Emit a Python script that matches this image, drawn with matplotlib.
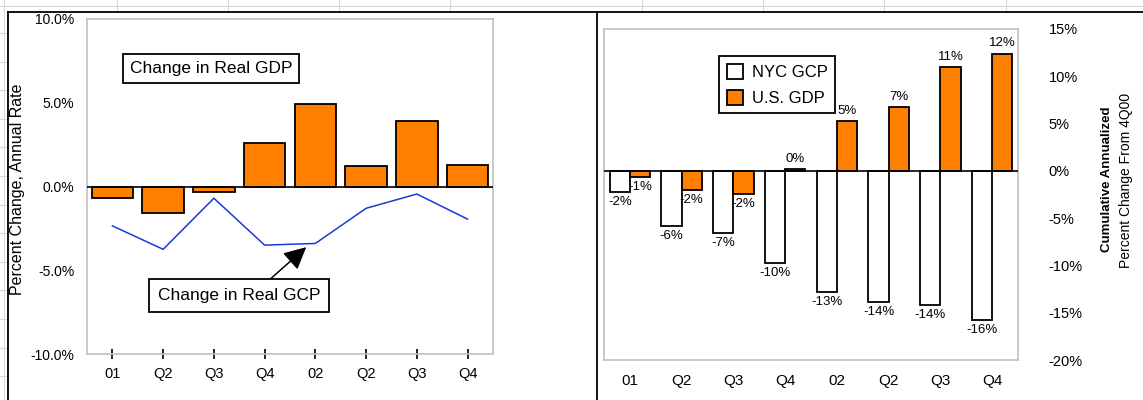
import numpy as np
import matplotlib
matplotlib.use('Agg')
import matplotlib.pyplot as plt
from matplotlib.lines import Line2D
from matplotlib.ticker import FuncFormatter

plt.rcParams['font.family'] = ['Liberation Sans', 'DejaVu Sans']

quarters = ['01', 'Q2', 'Q3', 'Q4', '02', 'Q2', 'Q3', 'Q4']

# quarterly change, annual rate (%)
real_gdp = [-0.7, -1.6, -0.3, 2.6, 4.9, 1.2, 3.9, 1.3]
real_gcp = [-2.35, -3.75, -0.7, -3.5, -3.4, -1.3, -0.45, -1.95]

# cumulative annualized change from 4Q00 (%)
nyc_gcp = [-2.2, -5.8, -6.6, -9.7, -12.8, -13.9, -14.2, -15.8]
us_gdp = [-0.6, -2.0, -2.4, 0.2, 5.3, 6.7, 11.0, 12.4]

ORANGE = '#ff8000'
BLUE = '#1a3ad4'
FRAME = '#c0c0c0'
SHEET = '#d9d9d9'

x = np.arange(len(quarters))

fig = plt.figure(figsize=(11.43, 4.0), dpi=100)

# worksheet grid peeking out round the chart objects
W, H = 1143.0, 400.0
fig.add_artist(Line2D([0, 1], [1 - 6 / H, 1 - 6 / H], color=SHEET, lw=0.8))
for cx in [117, 228, 339, 450, 642, 763, 884, 1006]:
    fig.add_artist(Line2D([cx / W, cx / W], [1, 1 - 12 / H], color=SHEET, lw=0.8))
fig.add_artist(Line2D([4 / W, 4 / W], [1, 0], color=SHEET, lw=0.8))
for ry in np.arange(33, 400, 28.6):
    fig.add_artist(Line2D([0, 8 / W], [1 - ry / H, 1 - ry / H], color=SHEET, lw=0.8))

# chart object borders
top = 1 - 12 / H
fig.add_artist(Line2D([8 / W, 1], [top, top], color='black', lw=1.3))
fig.add_artist(Line2D([8 / W, 8 / W], [top, 0], color='black', lw=1.3))
fig.add_artist(Line2D([596.5 / W, 596.5 / W], [top, 0], color='black', lw=1.3))

# ---- left: quarterly change ----
ax1 = fig.add_axes([87 / W, 1 - 354 / H, 406 / W, 335 / H])
ax1.bar(x, real_gdp, width=0.82, color=ORANGE, edgecolor='black', lw=1.3, zorder=3)
ax1.plot(x, real_gcp, color=BLUE, lw=1.1, zorder=4)
ax1.axhline(0, color='black', lw=1.2, zorder=5)
ax1.set_xlim(-0.5, 7.5)
ax1.set_ylim(-10, 10)
ax1.set_yticks([-10, -5, 0, 5, 10])
ax1.yaxis.set_major_formatter(FuncFormatter(lambda v, p: f'{v:.1f}%'))
ax1.set_xticks(x)
ax1.set_xticklabels(quarters)
ax1.tick_params(axis='y', length=0, pad=9, labelsize=10)
ax1.tick_params(axis='x', direction='inout', length=7, width=1.2, pad=6, labelsize=10.5)
for s in ax1.spines.values():
    s.set_color(FRAME)
    s.set_linewidth(1.2)

ax1.text(1.94, 7.05, 'Change in Real GDP', fontsize=12.5, ha='center', va='center',
         bbox=dict(boxstyle='square,pad=0.4', fc='white', ec='black', lw=1.3), zorder=6)
ax1.annotate('Change in Real GCP', xy=(3.82, -3.62), xytext=(2.5, -6.5),
             fontsize=12.5, ha='center', va='center',
             bbox=dict(boxstyle='square,pad=0.5', fc='white', ec='black', lw=1.3),
             arrowprops=dict(arrowstyle='-|>', mutation_scale=34, color='black', lw=1.1,
                             shrinkA=0, shrinkB=0, relpos=(0.63, 1.0)),
             zorder=6)
fig.text(18 / W, 1 - 189 / H, 'Percent Change, Annual Rate', rotation=90,
         ha='center', va='center', fontsize=11.5)

# ---- right: cumulative change ----
ax2 = fig.add_axes([604 / W, 1 - 360 / H, 414 / W, 331 / H])
bw = 0.39
b_nyc = ax2.bar(x - bw / 2, nyc_gcp, width=bw, color='white', edgecolor='black', lw=1.3, zorder=3)
b_us = ax2.bar(x + bw / 2, us_gdp, width=bw, color=ORANGE, edgecolor='black', lw=1.3, zorder=3)
ax2.axhline(0, color='black', lw=1.2, zorder=4)
for xs, vals in [(x - bw / 2, nyc_gcp), (x + bw / 2, us_gdp)]:
    for xi, v in zip(xs, vals):
        off = -3 if v < 0 else 3
        ax2.annotate(f'{v:.0f}%', (xi, v), xytext=(0, off), textcoords='offset points',
                     ha='center', va='top' if v < 0 else 'bottom', fontsize=9.5, zorder=5)
ax2.set_xlim(-0.5, 7.5)
ax2.set_ylim(-20, 15)
ax2.set_yticks(np.arange(-20, 16, 5))
ax2.yaxis.set_major_formatter(FuncFormatter(lambda v, p: f'{v:.0f}%'))
ax2.yaxis.tick_right()
ax2.set_xticks(x)
ax2.set_xticklabels(quarters)
ax2.tick_params(axis='y', length=0, pad=22, labelsize=10.5)
ax2.tick_params(axis='x', length=0, pad=10, labelsize=11)
for s in ax2.spines.values():
    s.set_color(FRAME)
    s.set_linewidth(1.2)

leg = ax2.legend([b_nyc, b_us], ['NYC GCP', 'U.S. GDP'], loc='upper left',
                 bbox_to_anchor=(0.278, 0.918), fontsize=12, fancybox=False,
                 framealpha=1, edgecolor='black', handlelength=1.0, handleheight=1.0,
                 handletextpad=0.5, labelspacing=0.6, borderpad=0.45, borderaxespad=0)
leg.get_frame().set_linewidth(1.3)

fig.text(1107 / W, 1 - 179 / H, 'Cumulative Annualized', rotation=90, ha='center',
         va='center', fontsize=9.5, fontweight='bold')
fig.text(1126 / W, 1 - 180 / H, 'Percent Change From 4Q00', rotation=90, ha='center',
         va='center', fontsize=10)

fig.savefig('out.png', dpi=100)
